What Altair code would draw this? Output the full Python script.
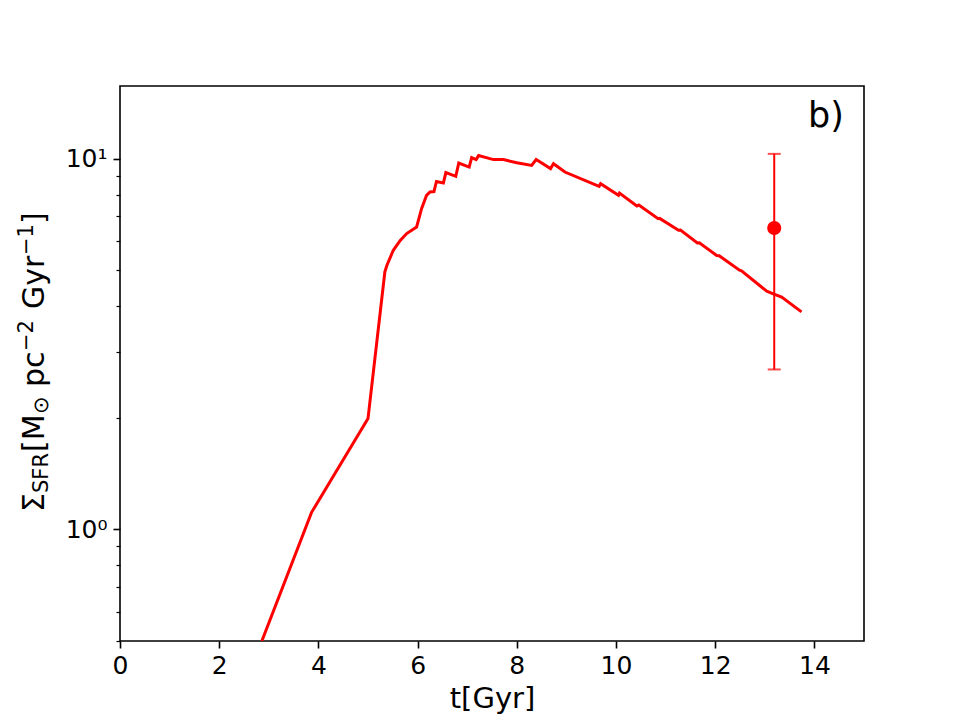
import altair as alt
import pandas as pd

# ---------------- data ----------------
t_gyr = [2.86, 3.86, 5.00, 5.34, 5.38, 5.51, 5.65, 5.78, 5.98, 6.08, 6.18, 6.25,
         6.33, 6.38, 6.52, 6.57, 6.77, 6.83, 7.04, 7.09, 7.18, 7.23, 7.53, 7.73,
         8.00, 8.30, 8.39, 8.68, 8.74, 8.97, 9.66, 9.69, 10.05, 10.07, 10.42, 10.46,
         10.85, 10.88, 11.26, 11.30, 11.64, 11.68, 12.03, 12.08, 12.49, 12.53,
         13.04, 13.17, 13.34, 13.74]
sfr = [0.50, 1.11, 1.99, 4.95, 5.15, 5.66, 6.02, 6.28, 6.54, 7.33, 7.96, 8.13,
       8.15, 8.68, 8.60, 9.17, 8.96, 9.73, 9.49, 10.06, 9.94, 10.19, 9.94, 9.94,
       9.75, 9.59, 9.94, 9.40, 9.69, 9.20, 8.42, 8.56, 7.96, 8.07, 7.45, 7.50,
       6.89, 6.90, 6.41, 6.42, 5.92, 5.93, 5.48, 5.47, 5.00, 4.98,
       4.39, 4.32, 4.23, 3.86]

obs_t = [13.19]
obs_sfr = [6.5]
obs_err = [3.8]

x_ticks = [0, 2, 4, 6, 8, 10, 12, 14]
y_major = [1, 10]
y_minor = [0.5, 0.6, 0.7, 0.8, 0.9, 2, 3, 4, 5, 6, 7, 8, 9]

x_title = "t[Gyr]"
panel_label = "b)"

line_df = pd.DataFrame({"t": t_gyr, "sfr": sfr})
obs_df = pd.DataFrame({
    "t": obs_t,
    "sfr": obs_sfr,
    "lo": [v - e for v, e in zip(obs_sfr, obs_err)],
    "hi": [v + e for v, e in zip(obs_sfr, obs_err)],
})
one = pd.DataFrame({"k": [0]})

FONT = "DejaVu Sans"
RED = "#ff0000"

xscale = alt.Scale(domain=[0, 15], nice=False, zero=False)
yscale = alt.Scale(type="log", domain=[0.5, 15.7], nice=False)

xaxis = alt.Axis(values=x_ticks, title=x_title, grid=False, domain=False,
                 tickColor="black", tickWidth=1.6, tickSize=7,
                 labelFont=FONT, labelFontSize=25, labelColor="black",
                 labelPadding=5, labelFlush=False, labelOverlap=False, format="d",
                 titleFont=FONT, titleFontSize=29, titleFontWeight="normal",
                 titleColor="black", titlePadding=6)

yaxis_major = alt.Axis(values=y_major, title=None, grid=False, domain=False,
                       orient="left", tickColor="black", tickWidth=1.6, tickSize=7,
                       labelExpr="datum.value == 1 ? '10⁰' : '10¹'",
                       labelFont=FONT, labelFontSize=25, labelColor="black",
                       labelPadding=6, labelFlush=False, labelOverlap=False)

yaxis_minor = alt.Axis(values=y_minor, title=None, grid=False, domain=False,
                       orient="left", tickColor="black", tickWidth=1.2, tickSize=4,
                       labels=False)

line = alt.Chart(line_df).mark_line(color=RED, strokeWidth=3, clip=True).encode(
    x=alt.X("t:Q", scale=xscale, axis=xaxis),
    y=alt.Y("sfr:Q", scale=yscale, axis=yaxis_major),
)

ebar = alt.Chart(obs_df).mark_rule(color=RED, strokeWidth=2).encode(
    x=alt.X("t:Q", scale=xscale, axis=xaxis),
    y=alt.Y("lo:Q", scale=yscale, axis=yaxis_minor),
    y2="hi:Q",
)

cap_lo = alt.Chart(obs_df).mark_tick(color=RED, orient="horizontal", size=13,
                                     thickness=2).encode(
    x=alt.X("t:Q", scale=xscale, axis=xaxis),
    y=alt.Y("lo:Q", scale=yscale, axis=None),
)
cap_hi = alt.Chart(obs_df).mark_tick(color=RED, orient="horizontal", size=13,
                                     thickness=2).encode(
    x=alt.X("t:Q", scale=xscale, axis=xaxis),
    y=alt.Y("hi:Q", scale=yscale, axis=None),
)

pt = alt.Chart(obs_df).mark_circle(color=RED, opacity=1, size=200).encode(
    x=alt.X("t:Q", scale=xscale, axis=xaxis),
    y=alt.Y("sfr:Q", scale=yscale, axis=None),
)

label = alt.Chart(one).mark_text(text=panel_label, font=FONT, fontSize=35,
                                 color="black", align="left",
                                 baseline="alphabetic").encode(
    x=alt.value(688), y=alt.value(41))


def ytitle_piece(txt, size, xpos, ypos):
    return alt.Chart(one).mark_text(text=txt, font=FONT, fontSize=size,
                                    color="black", angle=270, align="left",
                                    baseline="alphabetic").encode(
        x=alt.value(xpos), y=alt.value(ypos))


XB = -76
MAIN = 30
SUB = 21
pieces = [
    ytitle_piece("Σ", MAIN, XB, 426),
    ytitle_piece("SFR", SUB, XB + 4, 407),
    ytitle_piece("[M", MAIN, XB, 366),
    ytitle_piece("⊙", SUB, XB + 4, 328),
    ytitle_piece("pc", MAIN, XB, 301),
    ytitle_piece("−2", SUB, XB - 11, 265),
    ytitle_piece("Gyr", MAIN, XB, 223),
    ytitle_piece("−1", SUB, XB - 11, 169),
    ytitle_piece("]", MAIN, XB, 138),
]

chart = alt.layer(line, ebar, cap_lo, cap_hi, pt, label, *pieces).resolve_axis(
    y="independent"
).properties(
    width=744, height=555,
    padding={"left": 120, "top": 86, "right": 96, "bottom": 79},
    autosize=alt.AutoSizeParams(type="none"),
    background="white",
).configure_view(stroke="black", strokeWidth=1.6)

chart.save("out.html", embed_options={"renderer": "svg", "actions": False})
